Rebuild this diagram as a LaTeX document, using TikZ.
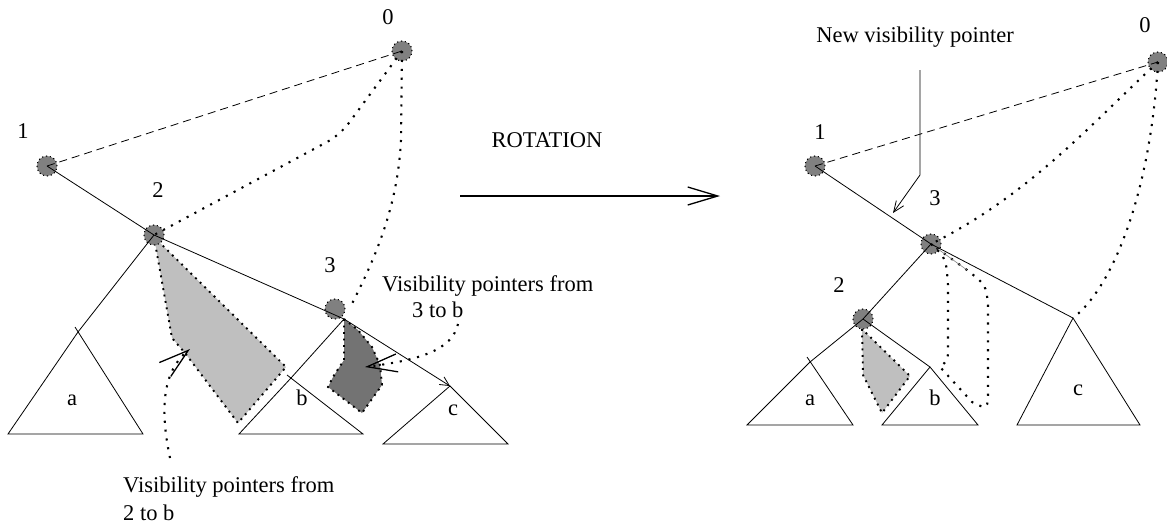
\documentclass[tikz,border=0pt]{standalone}
\usepackage{fontspec}
\setmainfont{Liberation Serif}
\usetikzlibrary{arrows.meta}

\begin{document}
\begin{tikzpicture}[
        x=1pt, y=-1pt,
        % --- Tree styles ---
        vertex/.style={
            circle, fill=black!50, draw=black, line width=1.1pt,
            dash pattern=on 1.1pt off 2.8pt, minimum size=20pt, inner sep=0pt
        },
        edge/.style={line width=0.8pt},
        link/.style={line width=0.8pt, dash pattern=on 8pt off 5pt},
        ptr/.style={line width=2.1pt, dash pattern=on 2.1pt off 6.8pt},
        region/.style={line width=1.9pt, dash pattern=on 1.9pt off 4.6pt},
        lab/.style={font=\fontsize{22.5}{27}\selectfont, inner sep=0pt},
        bigbarb/.style={-{Straight Barb[length=30pt, width=18pt, line width=1.3pt]}},
    ]
    \path[use as bounding box] (0,0) rectangle (1167,525);

    % ===== Left tree (before) =====
    \coordinate (laT) at (78,332);
    \coordinate (lbT) at (291,378);
    \coordinate (lcT) at (450,386);
    \coordinate (l3p) at (344,319);

    % shaded pointer regions
    \filldraw[region, fill=black!25] (154,237) -- (172,338) -- (185,353) -- (238,423) -- (286,367) -- cycle;
    \filldraw[region, fill=black!55] (l3p) -- (344,360) -- (333,377) -- (328,387) -- (362,413)
        -- (382,385) -- (380,365) -- (372,347) -- (358,330) -- cycle;

    \node[vertex] (l0) at (402,51) {};
    \node[vertex] (l1) at (47,166) {};
    \node[vertex] (l2) at (154,235) {};
    \node[vertex] (l3) at (335,309) {};

    \draw[edge] (l1.center) -- (l2.center) -- (l3p);
    \draw[edge] (l2.center) -- (laT);
    \draw[edge] (l3p) -- (lbT);
    \draw[edge, -{Straight Barb[length=9pt, width=9pt]}] (l3p) -- (lcT);

    % subtrees a, b, c
    \draw[edge] (laT) -- (8,434) -- (143,434) -- (75,327);
    \draw[edge] (lbT) -- (239,434) -- (363,434) -- (287,375);
    \draw[edge] (lcT) -- (383,444) -- (508,444) -- cycle;

    % dashed / dotted pointers
    \draw[link] (l1.center) -- (l0.center);
    \draw[ptr, rounded corners=14pt] (l0.center) -- (340,135) -- (l2.center);
    \draw[ptr, shorten >=12pt] (l0.center) -- (401,140) .. controls (398,200) and (380,250) .. (l3p);

    \node[lab] (l0lab) at (388,17) {0};
    \node[lab] (l1lab) at (23,131) {1};
    \node[lab] (l2lab) at (158,190) {2};
    \node[lab] (l3lab) at (330,265) {3};
    \node[lab] (lalab) at (72,400) {a};
    \node[lab] (lblab) at (302,398) {b};
    \node[lab] (lclab) at (453,410) {c};

    % notes
    \node[lab, anchor=base west] (vis2a) at (123,492) {Visibility pointers from};
    \node[lab, anchor=base west] (vis2b) at (123,520) {2 to b};
    \node[lab, anchor=base west] (vis3a) at (382,291) {Visibility pointers from};
    \node[lab, anchor=base west] (vis3b) at (412,317) {3 to b};

    \coordinate (p2s) at (170,458);
    \coordinate (p2e) at (190,349);
    \coordinate (p3s) at (458,324);
    \coordinate (p3e) at (365,367);
    \draw[ptr, bigbarb] (p2s) .. controls (160,410) and (162,372) .. (p2e);
    \draw[ptr, bigbarb] (p3s) .. controls (452,350) and (420,360) .. (p3e);

    % ===== Rotation =====
    \node[lab] (rot) at (547,140) {ROTATION};
    \coordinate (rotA) at (460,196);
    \coordinate (rotB) at (720,196);
    \draw[line width=1.3pt, bigbarb] (rotA) -- (rotB);

    % ===== Right tree (after) =====
    \coordinate (raT) at (810,362);
    \coordinate (rbT) at (930,367);
    \coordinate (rcT) at (1073,318);
    \coordinate (rgap) at (967,270);

    \filldraw[region, fill=black!25] (862,329) -- (863,375) -- (882,413) -- (910,376) -- cycle;

    \node[vertex] (r0) at (1158,62) {};
    \node[vertex] (r1) at (815,166) {};
    \node[vertex] (r3) at (931,244) {};
    \node[vertex] (r2) at (863,319) {};

    \draw[edge] (r1.center) -- (r3.center) -- (rcT);
    \draw[edge] (r3.center) -- (r2.center) -- (raT);
    \draw[edge] (r2.center) -- (rbT);

    \draw[edge] (raT) -- (747,425) -- (853,425) -- (807,357);
    \draw[edge] (rbT) -- (882,425) -- (978,425) -- cycle;
    \draw[edge] (rcT) -- (1017,425) -- (1140,425) -- cycle;

    \draw[link] (r1.center) -- (r0.center);
    \draw[ptr] (r0.center) .. controls (1095,120) and (1030,195) .. (r3.center);
    \draw[ptr] (r0.center) .. controls (1150,200) and (1110,290) .. (rcT);
    \draw[ptr] (r3.center) .. controls (946,258) .. (948,285) -- (948,348)
        .. controls (948,360) .. (940,367) -- (972,402) .. controls (988,410) .. (988,388)
        -- (988,305) .. controls (986,285) .. (rgap) -- (r3.center);
    \draw[line width=0.6pt, black!50, shorten <=8pt] (r3.center) -- (rgap);

    \node[lab] (r0lab) at (1145,25) {0};
    \node[lab] (r1lab) at (820,132) {1};
    \node[lab] (r2lab) at (839,285) {2};
    \node[lab] (r3lab) at (935,198) {3};
    \node[lab] (ralab) at (810,400) {a};
    \node[lab] (rblab) at (935,398) {b};
    \node[lab] (rclab) at (1078,390) {c};

    \node[lab, anchor=base] (newptr) at (915,42) {New visibility pointer};
    \coordinate (nptA) at (920,70);
    \coordinate (nptB) at (920,175);
    \coordinate (nptC) at (893,213);
    \draw[edge, -{Straight Barb[length=11pt, width=9pt]}] (nptA) -- (nptB) -- (nptC);

\end{tikzpicture}
\end{document}
